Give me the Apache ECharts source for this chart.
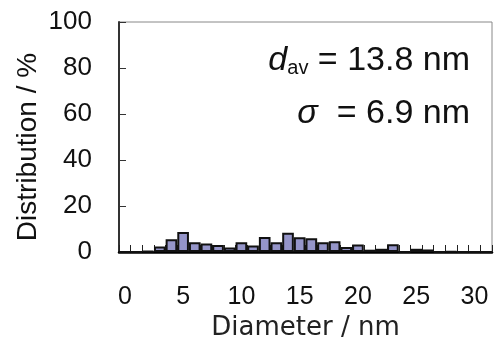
<!DOCTYPE html>
<html>
<head>
<meta charset="utf-8">
<script src="https://cdn.jsdelivr.net/npm/echarts@6/dist/echarts.min.js"></script>
<style>
html,body{margin:0;padding:0;background:#fff;}
#c{width:499px;height:358px;}
</style>
</head>
<body>
<div id="c"></div>
<script>
// Diameter bins (nm), 1 nm wide
var categories = ['0','1','2','3','4','5','6','7','8','9','10','11','12','13','14','15','16','17','18','19','20','21','22','23','24','25','26','27','28','29','30','31'];
// Distribution (%)
var distribution = [0,0,0.4,2.4,5.5,8.7,4.2,3.7,3.0,2.0,4.2,2.8,6.5,4.2,8.4,6.4,6.0,4.2,4.7,2.2,3.3,1.0,1.4,3.4,0,1.4,1.1,0,0.3,0,0,0];
var yTicks = [0,20,40,60,80,100];
var dAv = '13.8';
var sigma = '6.9';

var chart = echarts.init(document.getElementById('c'), null, {renderer:'canvas'});
var font = '"Liberation Sans", Arial, sans-serif';
chart.setOption({
  animation:false,
  backgroundColor:'#fff',
  grid:{left:119, right:7, top:22, bottom:106, show:true, borderColor:'#888', borderWidth:1, containLabel:false},
  xAxis:{
    type:'category', data:categories, boundaryGap:true,
    name:'Diameter / nm', nameLocation:'middle', nameGap:43,
    nameTextStyle:{fontFamily:'"DejaVu Sans", sans-serif', fontSize:26, color:'#222'},
    axisLine:{lineStyle:{color:'#000', width:2.5}},
    axisTick:{show:true, inside:true, length:7, interval:0, lineStyle:{color:'#222', width:1}},
    axisLabel:{interval:4, margin:33, fontFamily:font, fontSize:25, color:'#111'},
    splitLine:{show:false}
  },
  yAxis:{
    type:'value', min:yTicks[0], max:yTicks[yTicks.length-1], interval:20,
    axisLine:{show:true, lineStyle:{color:'#333', width:2}},
    axisTick:{show:true, inside:true, length:7, lineStyle:{color:'#333', width:1}},
    axisLabel:{margin:27, fontFamily:font, fontSize:26, color:'#111'},
    splitLine:{show:false}
  },
  series:[{
    type:'bar', data:distribution, barCategoryGap:'0%', barGap:'0%',
    itemStyle:{color:'#9595c9', borderColor:'#111', borderWidth:2}
  }],
  graphic:[
    {type:'text', x:28, y:147, rotation:Math.PI/2, style:{
      text:'Distribution / %', fontFamily:font, fontSize:28, fill:'#111',
      align:'center', verticalAlign:'middle'
    }},
    {type:'text', right:29, top:44, style:{
      text:'{i|d}{s|av}{n| = ' + dAv + ' nm}',
      rich:{
        i:{fontFamily:font, fontStyle:'italic', fontSize:34, fill:'#111'},
        s:{fontFamily:font, fontSize:20, fill:'#111', verticalAlign:'bottom', padding:[13,0,0,0]},
        n:{fontFamily:font, fontSize:34, fill:'#111'}
      }
    }},
    {type:'text', right:29, top:97, style:{
      text:'{i|σ}{n|  = ' + sigma + ' nm}',
      rich:{
        i:{fontFamily:font, fontStyle:'italic', fontSize:34, fill:'#111'},
        n:{fontFamily:font, fontSize:34, fill:'#111'}
      }
    }}
  ]
});
</script>
</body>
</html>
